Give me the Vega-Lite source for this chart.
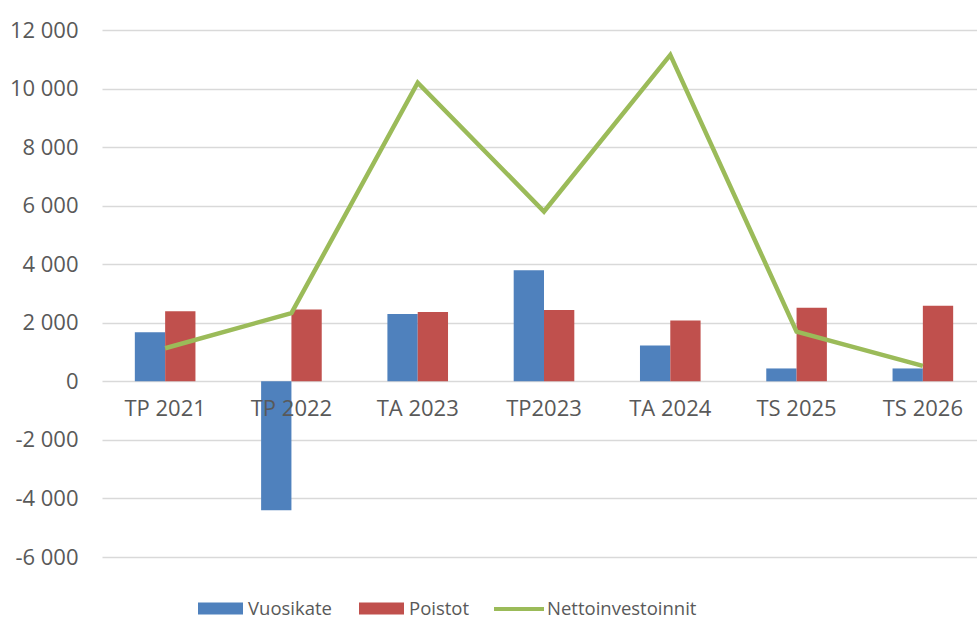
{
  "$schema": "https://vega.github.io/schema/vega-lite/v6.json",
  "autosize": {"type": "none"},
  "width": 875,
  "height": 527,
  "padding": {"left": 102, "top": 30, "right": 0, "bottom": 62},
  "background": "white",
  "config": {
    "view": {"stroke": null},
    "font": "Open Sans"
  },
  "data": {
    "values": [
      {"cat": "TP 2021", "series": "Vuosikate", "value": 1680},
      {"cat": "TP 2021", "series": "Poistot", "value": 2390},
      {"cat": "TP 2021", "series": "Nettoinvestoinnit", "value": 1130},
      {"cat": "TP 2022", "series": "Vuosikate", "value": -4400},
      {"cat": "TP 2022", "series": "Poistot", "value": 2450},
      {"cat": "TP 2022", "series": "Nettoinvestoinnit", "value": 2330},
      {"cat": "TA 2023", "series": "Vuosikate", "value": 2300},
      {"cat": "TA 2023", "series": "Poistot", "value": 2370},
      {"cat": "TA 2023", "series": "Nettoinvestoinnit", "value": 10200},
      {"cat": "TP2023", "series": "Vuosikate", "value": 3790},
      {"cat": "TP2023", "series": "Poistot", "value": 2440},
      {"cat": "TP2023", "series": "Nettoinvestoinnit", "value": 5800},
      {"cat": "TA 2024", "series": "Vuosikate", "value": 1220},
      {"cat": "TA 2024", "series": "Poistot", "value": 2080},
      {"cat": "TA 2024", "series": "Nettoinvestoinnit", "value": 11150},
      {"cat": "TS 2025", "series": "Vuosikate", "value": 440},
      {"cat": "TS 2025", "series": "Poistot", "value": 2510},
      {"cat": "TS 2025", "series": "Nettoinvestoinnit", "value": 1700},
      {"cat": "TS 2026", "series": "Vuosikate", "value": 440},
      {"cat": "TS 2026", "series": "Poistot", "value": 2580},
      {"cat": "TS 2026", "series": "Nettoinvestoinnit", "value": 530}
    ]
  },
  "encoding": {
    "x": {
      "field": "cat",
      "type": "nominal",
      "sort": null,
      "scale": {"range": [0, 884], "paddingInner": 0.52, "paddingOuter": 0.26},
      "axis": {
        "title": null,
        "labelAngle": 0,
        "domain": false,
        "ticks": false,
        "offset": -175.7,
        "labelPadding": 17,
        "labelFontSize": 22,
        "labelColor": "#595959",
        "zindex": 1
      }
    },
    "y": {
      "field": "value",
      "type": "quantitative",
      "scale": {"domain": [-6000, 12000], "nice": false},
      "axis": {
        "title": null,
        "values": [-6000, -4000, -2000, 0, 2000, 4000, 6000, 8000, 10000, 12000],
        "domain": false,
        "ticks": false,
        "labelPadding": 24,
        "labelFontSize": 22,
        "labelColor": "#595959",
        "gridColor": "#d9d9d9",
        "gridWidth": 1.5,
        "labelExpr": "datum.value == 0 ? '0' : (datum.value < 0 ? '-' : '') + replace(format(abs(datum.value), ','), ',', ' ')"
      }
    }
  },
  "layer": [
    {
      "transform": [{"filter": "datum.series != 'Nettoinvestoinnit'"}],
      "mark": {"type": "bar"},
      "encoding": {
        "xOffset": {"field": "series", "type": "nominal", "sort": ["Vuosikate", "Poistot"], "scale": {"paddingInner": 0, "paddingOuter": 0}},
        "color": {
          "field": "series",
          "type": "nominal",
          "scale": {"domain": ["Vuosikate", "Poistot"], "range": ["#4F81BD", "#C0504D"]},
          "legend": {
            "title": null,
            "orient": "none",
            "direction": "horizontal",
            "legendX": 96,
            "legendY": 556,
            "symbolType": "M-1,-0.27H1V0.27H-1Z",
            "symbolSize": 2025,
            "symbolStrokeWidth": 0,
            "labelFontSize": 18.5,
            "labelColor": "#595959",
            "labelOffset": 5,
            "labelLimit": 0,
            "columnPadding": 27
          }
        }
      }
    },
    {
      "transform": [{"filter": "datum.series == 'Nettoinvestoinnit'"}],
      "mark": {"type": "line", "strokeWidth": 4.5},
      "encoding": {
        "stroke": {
          "field": "series",
          "type": "nominal",
          "scale": {"domain": ["Nettoinvestoinnit"], "range": ["#9BBB59"]},
          "legend": {
            "title": null,
            "orient": "none",
            "legendX": 390,
            "legendY": 552,
            "symbolType": "stroke",
            "symbolSize": 2500,
            "symbolStrokeWidth": 4,
            "labelFontSize": 18.5,
            "labelColor": "#595959",
            "labelOffset": 1,
            "labelLimit": 0
          }
        }
      }
    }
  ]
}
